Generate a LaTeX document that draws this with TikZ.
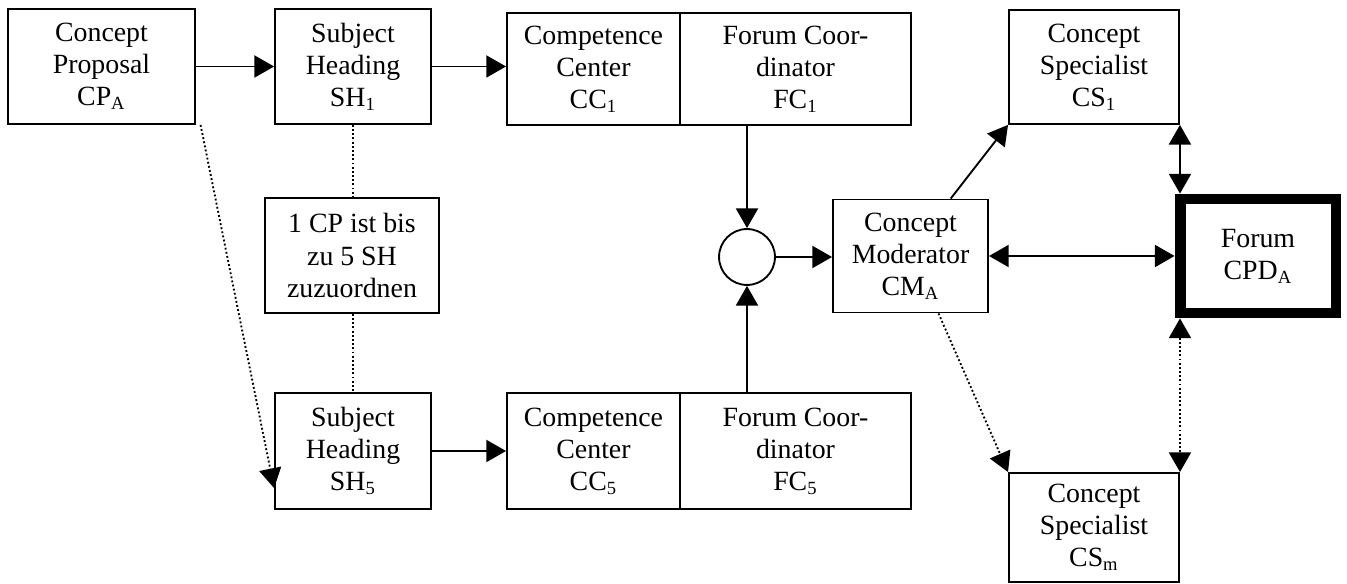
\documentclass[tikz,border=0pt]{standalone}
\usepackage{fontspec}
\setmainfont{Liberation Serif}
\usetikzlibrary{arrows.meta}

\begin{document}
\begin{tikzpicture}[x=0.431pt, y=-0.431pt,
    box/.style     ={rectangle, draw, line width=0.8pt, align=center, inner sep=0pt,
                     font=\fontsize{12}{13.8}\selectfont},
    forumbox/.style={box, line width=4.7pt},
    merge/.style   ={circle, draw, line width=0.8pt, minimum size=24.1pt, inner sep=0pt},
    arr/.style     ={-{Triangle[length=8.5pt,width=9.5pt]}, line width=0.8pt},
    dblarr/.style  ={{Triangle[length=8.5pt,width=9.5pt]}-{Triangle[length=8.5pt,width=9.5pt]}, line width=0.8pt},
    dotline/.style ={densely dotted, line width=0.8pt}]
    \useasboundingbox (0,0) rectangle (1347,584);
    % top row
    \node[box, minimum width=80.6pt, minimum height=49.6pt] (cp)  at (101.5,66.5) {Concept\\Proposal\\CP\textsubscript{A}};
    \node[box, minimum width=67.2pt, minimum height=49.6pt] (sh1) at (353,66.5)   {Subject\\Heading\\SH\textsubscript{1}};
    \node[box, minimum width=74.6pt, minimum height=48.3pt] (cc1) at (593.5,69)   {Competence\\Center\\CC\textsubscript{1}};
    \node[box, minimum width=99.6pt, minimum height=48.3pt] (fc1) at (795.5,69)   {Forum Coor-\\dinator\\FC\textsubscript{1}};
    \node[box, minimum width=73.3pt, minimum height=49.1pt] (cs1) at (1094,67)    {Concept\\Specialist\\CS\textsubscript{1}};
    % middle row
    \node[box, minimum width=75pt, minimum height=49.6pt]   (note) at (352,255.5) {1 CP ist bis\\zu 5 SH\\zuzuordnen};
    \node[merge]                                            (join) at (747,257)   {};
    \node[box, minimum width=66.8pt, minimum height=48.7pt] (cm)   at (910.5,256) {Concept\\Moderator\\CM\textsubscript{A}};
    \node[forumbox, minimum width=67.2pt, minimum height=49.1pt] (cpd) at (1258,256) {Forum\\CPD\textsubscript{A}};
    % bottom row
    \node[box, minimum width=67.2pt, minimum height=50pt]   (sh5) at (353,451)    {Subject\\Heading\\SH\textsubscript{5}};
    \node[box, minimum width=74.6pt, minimum height=50pt]   (cc5) at (593.5,451)  {Competence\\Center\\CC\textsubscript{5}};
    \node[box, minimum width=99.6pt, minimum height=50pt]   (fc5) at (795.5,451)  {Forum Coor-\\dinator\\FC\textsubscript{5}};
    \node[box, minimum width=73.3pt, minimum height=47pt]   (csm) at (1094,527.5) {Concept\\Specialist\\CS\textsubscript{m}};
    % connectors
    \draw[arr] (cp) -- (sh1);
    \draw[arr] (sh1.east) -- (cc1.west |- sh1.east);
    \draw[arr] (sh5.east) -- (cc5.west |- sh5.east);
    \draw[arr] (join.north |- fc1.south) -- (join.north);
    \draw[arr] (join.south |- fc5.north) -- (join.south);
    \draw[arr] (join.east) -- (cm.west |- join.east);
    \draw[arr] (cm.55) -- (cs1.south west);
    \draw[dblarr] (cm) -- (cpd);
    \draw[dblarr] (cs1.south east) -- (cs1.south east |- cpd.north);
    \draw[dblarr, dotline] (cs1.south east |- cpd.south) -- (csm.north east);
    \draw[arr, dotline] (cm.-64) -- (csm.north west);
    \draw[arr, dotline] ([xshift=2pt]cp.south east) -- ([yshift=-16pt]sh5.west);
    \draw[dotline] (sh1.south) -- (sh1.south |- note.north);
    \draw[dotline] (sh5.north |- note.south) -- (sh5.north);
\end{tikzpicture}
\end{document}
